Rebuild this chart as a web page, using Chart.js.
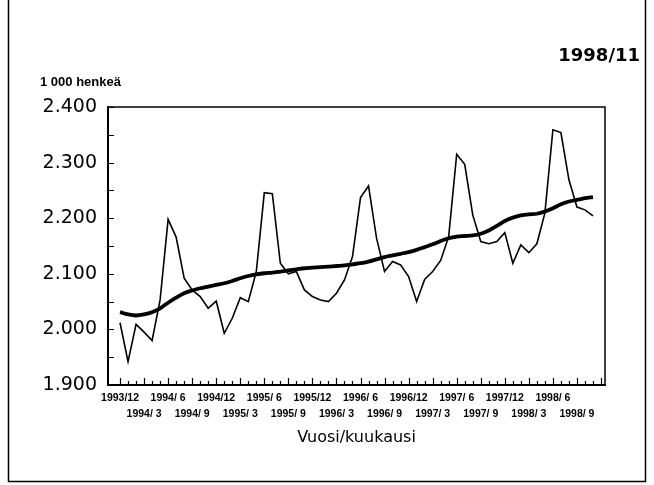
<!DOCTYPE html>
<html>
<head>
<meta charset="utf-8">
<script src="https://cdn.jsdelivr.net/npm/chart.js@4.4.1/dist/chart.umd.min.js"></script>
<style>
  body { margin: 0; background: #fff; }
  #wrap { position: relative; width: 654px; height: 485px; }
</style>
</head>
<body>
<div id="wrap"><canvas id="myChart" width="654" height="485"></canvas></div>
<script>
// months 1993/12 .. 1998/11
const months = [
  "1993/12",
  "1994/ 1", "1994/ 2", "1994/ 3", "1994/ 4", "1994/ 5", "1994/ 6", "1994/ 7", "1994/ 8", "1994/ 9", "1994/10", "1994/11", "1994/12",
  "1995/ 1", "1995/ 2", "1995/ 3", "1995/ 4", "1995/ 5", "1995/ 6", "1995/ 7", "1995/ 8", "1995/ 9", "1995/10", "1995/11", "1995/12",
  "1996/ 1", "1996/ 2", "1996/ 3", "1996/ 4", "1996/ 5", "1996/ 6", "1996/ 7", "1996/ 8", "1996/ 9", "1996/10", "1996/11", "1996/12",
  "1997/ 1", "1997/ 2", "1997/ 3", "1997/ 4", "1997/ 5", "1997/ 6", "1997/ 7", "1997/ 8", "1997/ 9", "1997/10", "1997/11", "1997/12",
  "1998/ 1", "1998/ 2", "1998/ 3", "1998/ 4", "1998/ 5", "1998/ 6", "1998/ 7", "1998/ 8", "1998/ 9", "1998/10", "1998/11"
];

// employed, 1 000 persons (original series)
const persons = [
  2012,
  1942, 2009, 1995, 1980, 2053, 2198, 2166, 2092, 2071, 2059, 2038, 2051,
  1993, 2020, 2057, 2050, 2104, 2246, 2244, 2119, 2100, 2104, 2071, 2059,
  2053, 2050, 2065, 2089, 2131, 2237, 2258, 2164, 2104, 2122, 2116, 2095,
  2050, 2090, 2104, 2124, 2167, 2315, 2297, 2206, 2158, 2154, 2158, 2174,
  2119, 2152, 2138, 2154, 2209, 2359, 2354, 2269, 2220, 2215, 2204
];

// trend
const trend = [
  2031,
  2027, 2025, 2027, 2031, 2038, 2048, 2057, 2065, 2070, 2074, 2077, 2080,
  2083, 2087, 2092, 2096, 2099, 2101, 2102, 2104, 2106, 2108, 2110, 2111,
  2112, 2113, 2114, 2115, 2117, 2119, 2122, 2126, 2130, 2133, 2136, 2139,
  2143, 2148, 2153, 2159, 2164, 2167, 2168, 2169, 2172, 2178, 2186, 2195,
  2201, 2205, 2207, 2208, 2212, 2218, 2225, 2230, 2233, 2236, 2238
];

const yMin = 1900, yMax = 2400;

// draws the frame, inward tick marks and the header texts
const extras = {
  id: "extras",
  afterDraw(chart) {
    const ctx = chart.ctx;
    const a = chart.chartArea;
    const x = chart.scales.x, y = chart.scales.y;
    ctx.save();
    ctx.strokeStyle = "#000";
    // top + right of plot box
    ctx.lineWidth = 1.5;
    ctx.beginPath();
    ctx.moveTo(a.left, a.top);
    ctx.lineTo(a.right, a.top);
    ctx.lineTo(a.right, a.bottom);
    ctx.stroke();
    // month ticks (inward)
    ctx.lineWidth = 1.2;
    ctx.beginPath();
    for (let i = 0; i <= months.length; i++) {
      const px = Math.round(x.getPixelForValue(i)) + 0.5;
      const len = i % 3 === 0 ? 7 : 4;
      ctx.moveTo(px, a.bottom);
      ctx.lineTo(px, a.bottom - len);
    }
    // value ticks (inward)
    for (let v = yMin; v <= yMax; v += 50) {
      const py = Math.round(y.getPixelForValue(v)) + 0.5;
      ctx.moveTo(a.left, py);
      ctx.lineTo(a.left + 6, py);
    }
    ctx.stroke();
    // outer frame
    ctx.lineWidth = 1.5;
    ctx.beginPath();
    ctx.moveTo(8.5, 0);
    ctx.lineTo(8.5, 481.5);
    ctx.lineTo(645.5, 481.5);
    ctx.lineTo(645.5, 0);
    ctx.stroke();
    // texts
    ctx.fillStyle = "#000";
    ctx.textBaseline = "middle";
    ctx.font = "bold 13px 'Liberation Sans', Arial, sans-serif";
    ctx.textAlign = "left";
    ctx.fillText("1 000 henkeä", 40, 82);
    ctx.font = "bold 18px 'DejaVu Sans', sans-serif";
    ctx.textAlign = "right";
    ctx.fillText("1998/11", 640, 56);
    ctx.restore();
  }
};

const ctx = document.getElementById("myChart").getContext("2d");
const chart = new Chart(ctx, {
  type: "line",
  data: {
    datasets: [
      {
        label: "Työlliset",
        data: persons.map((v, i) => ({ x: i, y: v })),
        borderColor: "#000",
        borderWidth: 1.6,
        pointRadius: 0,
        tension: 0,
        fill: false,
      },
      {
        label: "Trendi",
        data: trend.map((v, i) => ({ x: i, y: v })),
        borderColor: "#000",
        borderWidth: 3.8,
        pointRadius: 0,
        tension: 0.4,
        cubicInterpolationMode: "monotone",
        fill: false,
      },
    ],
  },
  options: {
    responsive: false,
    animation: false,
    devicePixelRatio: 1,
    layout: { padding: { left: 0, right: 49, top: 107, bottom: 0 } },
    plugins: {
      legend: { display: false },
      tooltip: { enabled: false },
    },
    scales: {
      x: {
        type: "linear",
        min: -1.5,
        max: 60.5,
        grid: { display: false },
        border: { display: true, color: "#000", width: 2 },
        afterFit: (scale) => { scale.height = 100; },
        // one label every third month, alternating between two rows
        afterBuildTicks: (scale) => {
          scale.ticks = months.map((m, i) => ({ value: i })).filter((t) => t.value % 3 === 0);
        },
        ticks: {
          autoSkip: false,
          maxRotation: 0,
          minRotation: 0,
          padding: -3,
          color: "#000",
          font: { family: "'Liberation Sans', Arial, sans-serif", size: 10.5, weight: "bold", lineHeight: 1.55 },
          callback: (value) => {
            if (!months[value]) return "";
            return (value / 3) % 2 === 0 ? [months[value], ""] : ["", months[value]];
          },
        },
        title: {
          display: true,
          text: "Vuosi/kuukausi",
          color: "#000",
          font: { family: "'DejaVu Sans', sans-serif", size: 16, lineHeight: 1.2 },
          padding: { top: 4, bottom: 38 },
        },
      },
      y: {
        min: yMin,
        max: yMax,
        grid: { display: false },
        border: { display: true, color: "#000", width: 2 },
        afterFit: (scale) => { scale.width = 108; },
        ticks: {
          stepSize: 50,
          padding: 3,
          color: "#000",
          font: { family: "'DejaVu Sans', sans-serif", size: 19 },
          callback: (value) => (value % 100 === 0 ? (value / 1000).toFixed(3) : ""),
        },
      },
    },
  },
  plugins: [extras],
});
</script>
</body>
</html>
